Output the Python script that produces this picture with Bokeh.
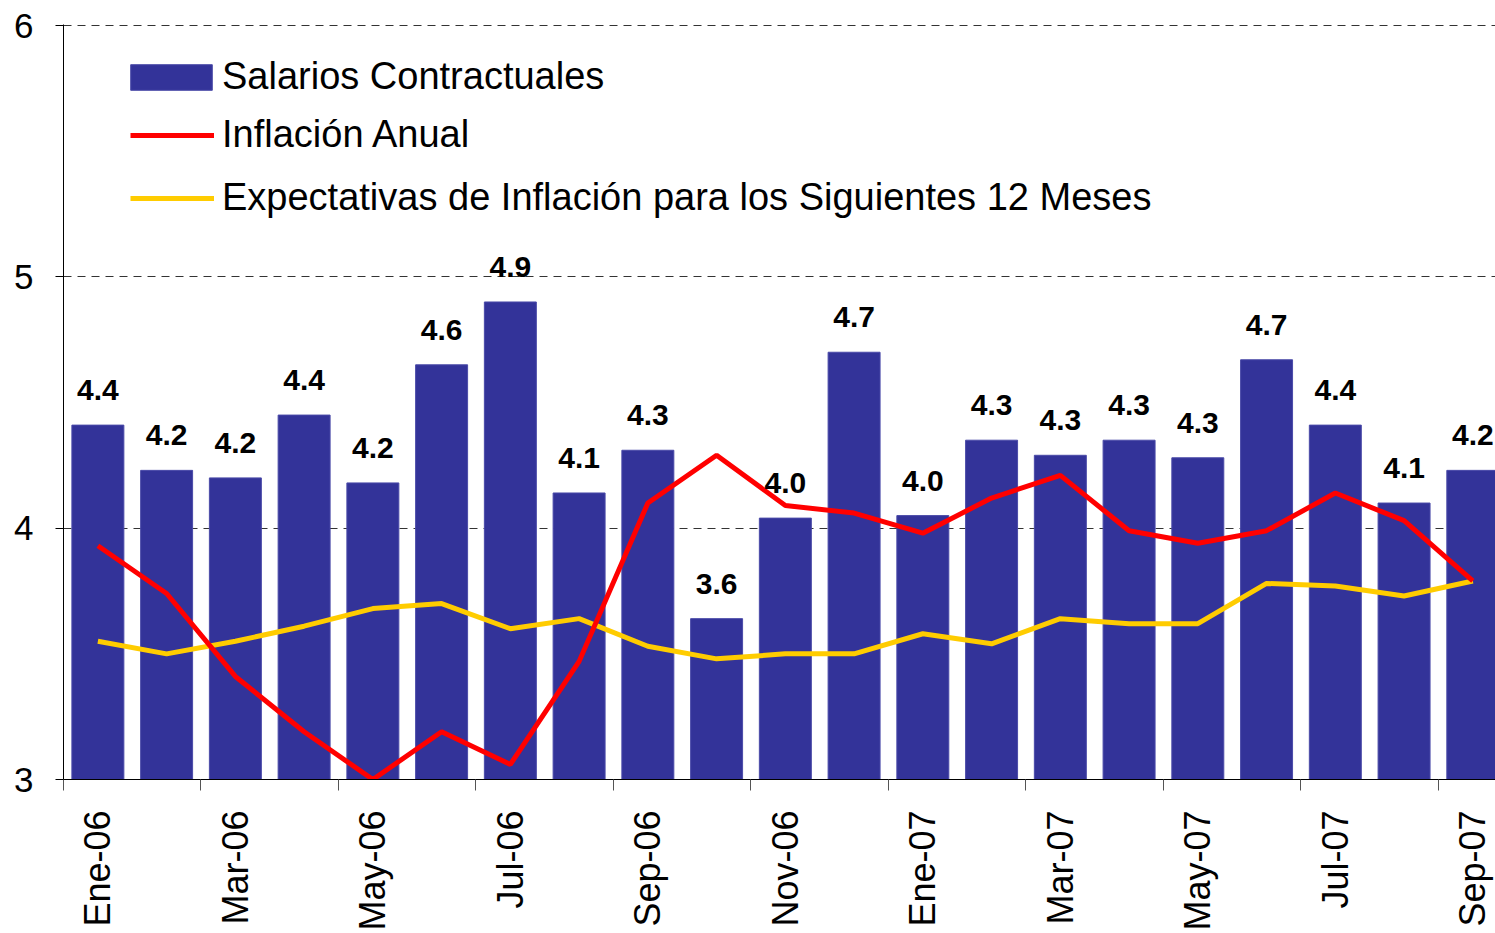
import math
from bokeh.plotting import figure
from bokeh.models import (Range1d, FixedTicker, ColumnDataSource, LabelSet,
                          Legend, LegendItem)
from bokeh.core.properties import value
from bokeh.embed import file_html
from bokeh.resources import INLINE

months = ["Ene-06", "Feb-06", "Mar-06", "Abr-06", "May-06", "Jun-06", "Jul-06",
          "Ago-06", "Sep-06", "Oct-06", "Nov-06", "Dic-06", "Ene-07", "Feb-07",
          "Mar-07", "Abr-07", "May-07", "Jun-07", "Jul-07", "Ago-07", "Sep-07"]
salarios = [4.41, 4.23, 4.20, 4.45, 4.18, 4.65, 4.90, 4.14, 4.31, 3.64, 4.04,
            4.70, 4.05, 4.35, 4.29, 4.35, 4.28, 4.67, 4.41, 4.10, 4.23]
salario_labels = ["4.4", "4.2", "4.2", "4.4", "4.2", "4.6", "4.9", "4.1", "4.3",
                  "3.6", "4.0", "4.7", "4.0", "4.3", "4.3", "4.3", "4.3", "4.7",
                  "4.4", "4.1", "4.2"]
inflacion = [3.93, 3.74, 3.41, 3.19, 3.00, 3.19, 3.06, 3.47, 4.10, 4.29, 4.09,
             4.06, 3.98, 4.12, 4.21, 3.99, 3.94, 3.99, 4.14, 4.03, 3.79]
expectativas = [3.55, 3.50, 3.55, 3.61, 3.68, 3.70, 3.60, 3.64, 3.53, 3.48, 3.50,
                3.50, 3.58, 3.54, 3.64, 3.62, 3.62, 3.78, 3.77, 3.73, 3.79]
y_ticks = [3, 4, 5, 6]

FONT = "Liberation Sans"
x = [i + 0.5 for i in range(len(months))]
src = ColumnDataSource(dict(x=x, sal=salarios, inf=inflacion, exp=expectativas,
                            lab=salario_labels))

p = figure(width=1495, height=933, output_backend="svg", toolbar_location=None,
           x_range=Range1d(0, 20.83), y_range=Range1d(3, 6.004),
           min_border_left=63, min_border_right=0, min_border_top=24,
           min_border_bottom=154)
p.outline_line_color = None
p.background_fill_color = "white"

bars = p.vbar(x="x", top="sal", bottom=3, width=0.756, source=src,
              fill_color="#333399", line_color="#4a4aa8", line_width=1)
yel = p.line("x", "exp", source=src, line_color="#FFCC00", line_width=5)
red = p.line("x", "inf", source=src, line_color="#FF0000", line_width=5)

labels = LabelSet(x="x", y="sal", text="lab", source=src, y_offset=25,
                  text_align="center", text_baseline="alphabetic",
                  text_font=value(FONT), text_font_size="30px",
                  text_font_style="bold", text_color="black")
p.add_layout(labels)

# x axis: labels at every other category center, ticks at boundaries
xa = p.xaxis[0]
xa.ticker = FixedTicker(ticks=x[::2], minor_ticks=list(range(0, 21, 2)))
xa.major_label_overrides = {xv: m for xv, m in zip(x[::2], months[::2])}
xa.major_label_orientation = math.pi / 2
xa.major_tick_out = 0
xa.major_tick_in = 0
xa.minor_tick_out = 11
xa.minor_tick_in = 0
xa.minor_tick_line_color = "#555555"
xa.axis_line_color = "black"
xa.major_label_standoff = 20
xa.major_label_text_font = FONT
xa.major_label_text_font_size = "36px"
xa.major_label_text_color = "black"

ya = p.yaxis[0]
ya.ticker = FixedTicker(ticks=y_ticks, minor_ticks=[])
ya.major_tick_out = 8
ya.major_tick_in = 0
ya.major_tick_line_color = "black"
ya.axis_line_color = "black"
ya.major_label_standoff = 22
ya.major_label_text_font = FONT
ya.major_label_text_font_size = "35px"
ya.major_label_text_color = "black"

p.xgrid.grid_line_color = None
p.ygrid.ticker = FixedTicker(ticks=[4, 5, 6])
p.ygrid.grid_line_color = "#333333"
p.ygrid.grid_line_dash = "8 6"
p.ygrid.grid_line_width = 1

common = dict(padding=0, margin=0, label_height=42,
              label_text_font=FONT, label_text_font_size="38px",
              label_text_color="black", label_text_baseline="middle",
              background_fill_alpha=0, border_line_color=None)

legend_bar = Legend(items=[
    LegendItem(label="Salarios Contractuales", renderers=[bars]),
], location=(57, 681), glyph_width=102, glyph_height=32, label_standoff=0,
    **common)
legend_lines = Legend(items=[
    LegendItem(label="Inflación Anual", renderers=[red]),
    LegendItem(label="Expectativas de Inflación para los Siguientes 12 Meses", renderers=[yel]),
], location=(67, 560), spacing=20, glyph_width=84, glyph_height=26,
    label_standoff=8, **common)
p.add_layout(legend_bar)
p.add_layout(legend_lines)

open("out.html", "w").write(file_html(p, INLINE))
